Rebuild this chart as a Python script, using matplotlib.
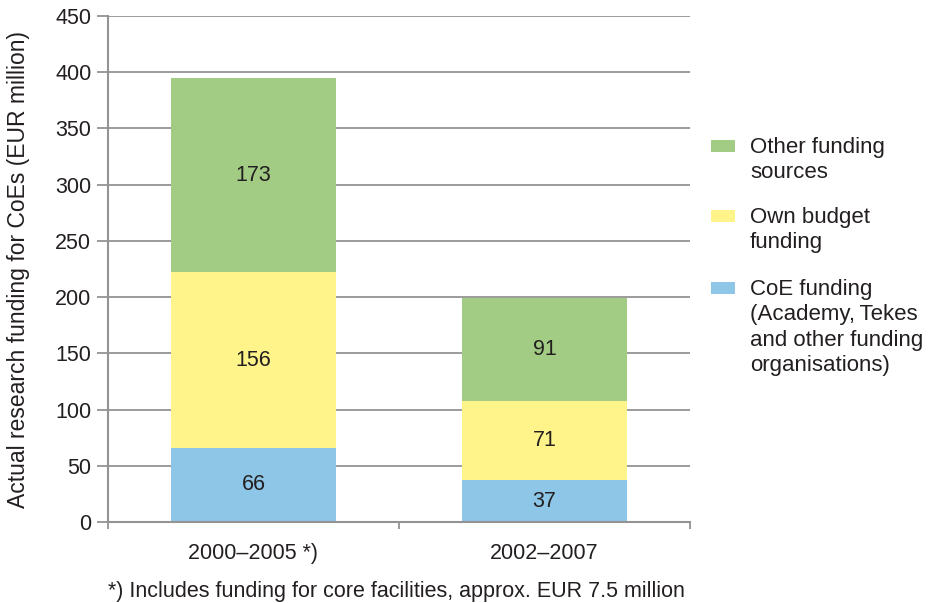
import matplotlib.pyplot as plt
from matplotlib.patches import Rectangle

plt.rcParams['font.family'] = ['Liberation Sans', 'DejaVu Sans']

# funding per period, EUR million
periods = ['2000\u20132005 *)', '2002\u20132007']
coe_funding = [66, 37]
own_budget = [156, 71]
other_sources = [173, 91]

series_labels = ['Other funding\nsources', 'Own budget\nfunding',
                 'CoE funding\n(Academy,\u2009Tekes\nand other funding\norganisations)']
colors = ['#a2cb84', '#fff48a', '#8ec6e8']
grid_col = '#939393'
text_col = '#231f20'

fig = plt.figure(figsize=(9.34, 6.03), dpi=100)
ax = fig.add_axes([108 / 934, 1 - 522 / 603, 582 / 934, 506 / 603])

x = range(len(periods))
w = 0.57
bottoms = [0] * len(periods)
for vals, col in [(coe_funding, colors[2]), (own_budget, colors[1]), (other_sources, colors[0])]:
    bars = ax.bar(x, vals, w, bottom=bottoms, color=col, zorder=2)
    for b, v, b0 in zip(bars, vals, bottoms):
        ax.text(b.get_x() + b.get_width() / 2, b0 + v / 2, str(v),
                ha='center', va='center', fontsize=15.5, color=text_col, zorder=3)
    bottoms = [a + b for a, b in zip(bottoms, vals)]

ax.set_xlim(-0.5, 1.5)
ax.set_ylim(0, 450)
ax.set_yticks(range(0, 451, 50))
ax.yaxis.grid(True, color=grid_col, linewidth=1.3, zorder=0)
ax.set_axisbelow(True)

ax.set_xticks(list(x))
ax.set_xticklabels(periods)
ax.set_xticks([-0.5, 0.5, 1.5], minor=True)
ax.tick_params(axis='x', which='major', length=0, pad=15, labelsize=15.5, labelcolor=text_col)
ax.tick_params(axis='x', which='minor', length=5, width=1.3, color=grid_col)
ax.tick_params(axis='y', length=8, width=1.3, color=grid_col, pad=4,
               labelsize=15.5, labelcolor=text_col)

for s in ['top', 'right']:
    ax.spines[s].set_visible(False)
for s in ['left', 'bottom']:
    ax.spines[s].set_color(grid_col)
    ax.spines[s].set_linewidth(1.5)

ax.set_ylabel('Actual research funding for CoEs (EUR million)', fontsize=16.5,
              color=text_col)
ax.yaxis.set_label_coords(-0.134, 0.5)

# legend drawn by hand so the swatch lines up with the first text line
legend_y = [146, 216, 288]
for lbl, col, ly in zip(series_labels, colors, legend_y):
    fig.add_artist(Rectangle((711 / 934, 1 - (ly + 6) / 603), 24 / 934, 12 / 603,
                             transform=fig.transFigure, facecolor=col, edgecolor='none'))
    fig.text(750 / 934, 1 - (ly - 9) / 603, lbl, fontsize=16, color=text_col,
             va='top', ha='left', linespacing=1.28)

fig.text(396 / 934, 1 - 592 / 603, '*) Includes funding for core facilities, approx. EUR 7.5 million',
         fontsize=15.5, color=text_col, ha='center', va='center')

fig.savefig('out.png', dpi=100)
